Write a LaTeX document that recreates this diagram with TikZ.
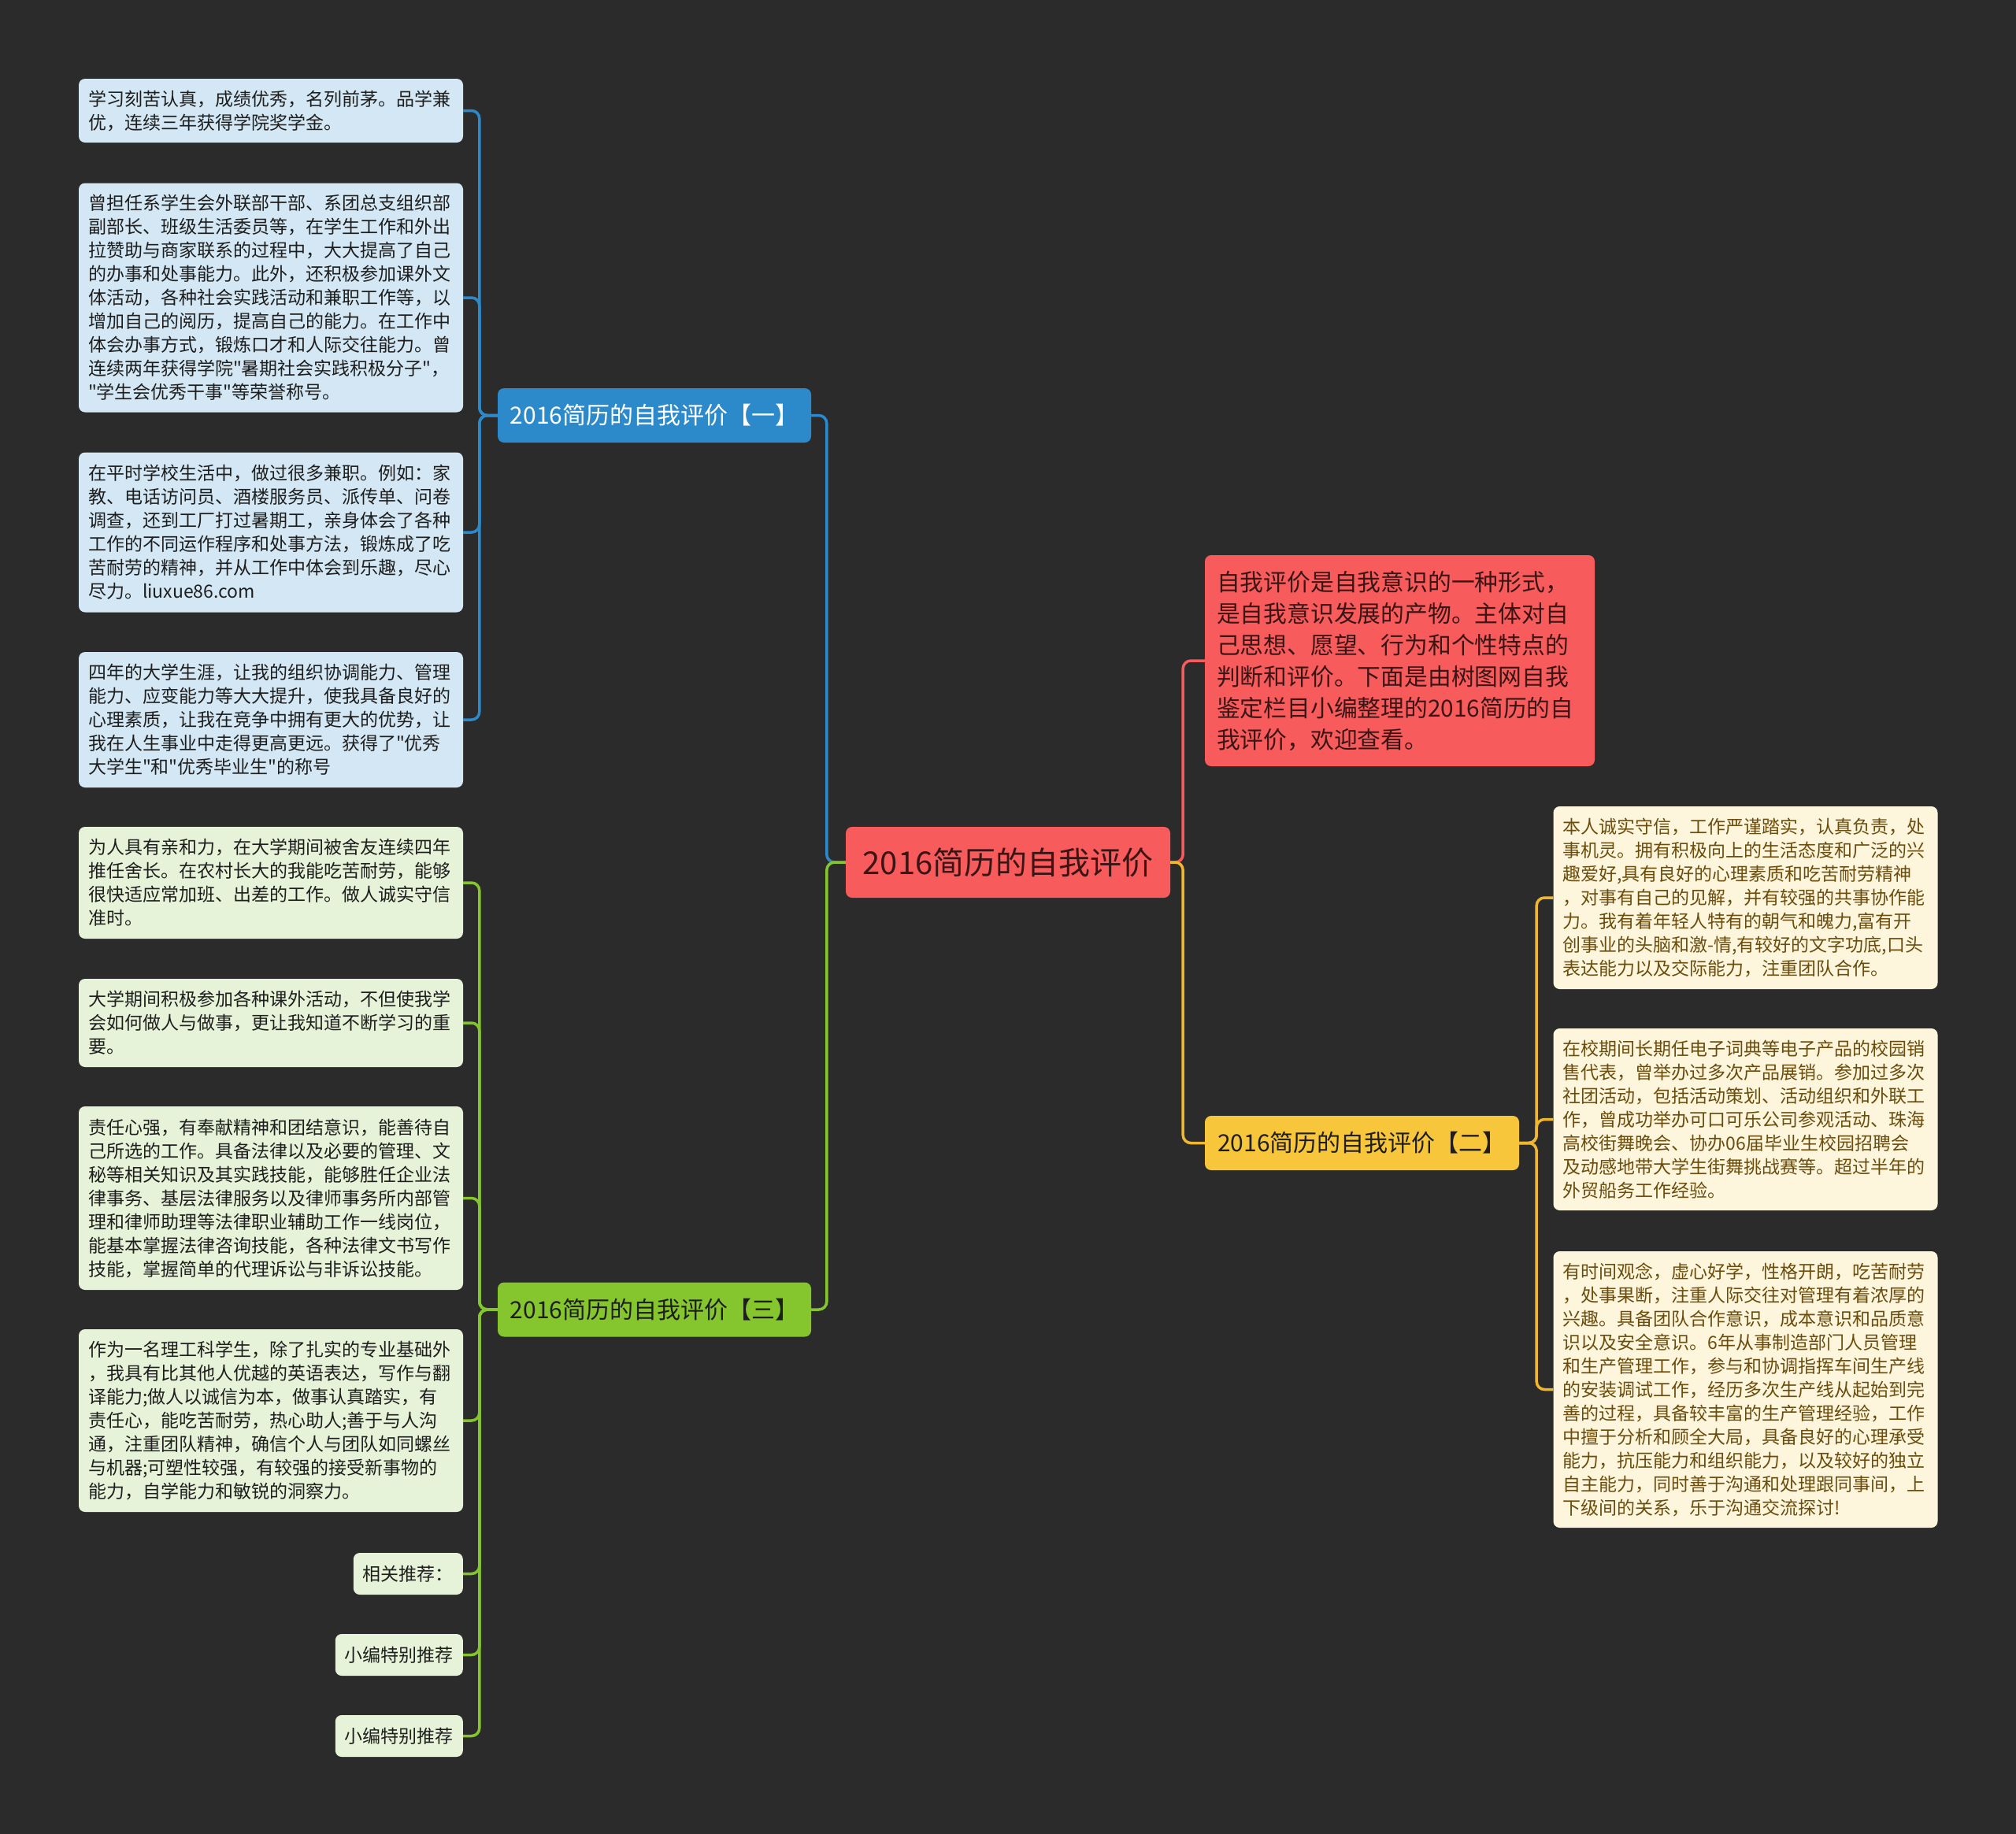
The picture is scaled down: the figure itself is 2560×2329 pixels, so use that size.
\documentclass[tikz,border=0pt]{standalone}
\usepackage{fontspec}
\setmainfont{Noto Sans CJK SC}[Ligatures=TeXOff]
\definecolor{bgc}{HTML}{2B2B2B}
\definecolor{blueM}{HTML}{2C8ACB}
\definecolor{blueL}{HTML}{D3E7F4}
\definecolor{greenM}{HTML}{85C62F}
\definecolor{greenL}{HTML}{E7F3D8}
\definecolor{yelM}{HTML}{F8C63B}
\definecolor{yelLine}{HTML}{F0B72E}
\definecolor{yelL}{HTML}{FDF6DC}
\definecolor{yelT}{HTML}{6B4C0C}
\definecolor{redM}{HTML}{F75B5B}
\definecolor{darkT}{HTML}{1E1E1E}
\definecolor{redT}{HTML}{3A1515}
\tikzset{
  leafbox/.style={rounded corners=8pt, align=left, text width=464pt, inner xsep=12pt, inner ysep=0pt,
    font=\fontsize{23}{30}\selectfont, text=darkT},
  smallbox/.style={rounded corners=8pt, inner xsep=12pt, inner ysep=0pt, minimum height=53pt,
    font=\fontsize{23}{30}\selectfont, text=darkT, fill=greenL, anchor=east},
  bleaf/.style={leafbox, fill=blueL},
  gleaf/.style={leafbox, fill=greenL},
  yleaf/.style={leafbox, fill=yelL, text=yelT},
  branchbox/.style={rounded corners=8pt, minimum width=398pt, minimum height=69pt, inner sep=0pt,
    font=\fontsize{30}{36}\selectfont},
  conn/.style={line width=3.5pt, rounded corners=10pt},
}
\begin{document}
\begin{tikzpicture}[x=1pt,y=-1pt]
\fill[bgc] (0,0) rectangle (2560,2329);
\useasboundingbox (0,0) rectangle (2560,2329);

% central
\node[rounded corners=8pt, fill=redM, minimum width=412pt, minimum height=90pt, inner sep=0pt,
  font=\fontsize{40}{46}\selectfont, text=redT] (c) at (1280,1095) {2016简历的自我评价};

% branches
\node[branchbox, fill=blueM, text=white] (b1) at (831,527.5) {2016简历的自我评价【一】};
\node[branchbox, fill=greenM, text=darkT] (b3) at (831,1663) {2016简历的自我评价【三】};
\node[branchbox, fill=yelM, text=darkT, minimum width=399pt] (b2) at (1729.5,1451.5) {2016简历的自我评价【二】};

% red summary
\node[rounded corners=8pt, fill=redM, text=redT, align=left, text width=465pt, inner xsep=15pt, inner ysep=0pt,
  minimum height=268pt, font=\fontsize{29.8}{40}\selectfont] (red) at (1777.5,839)
  {自我评价是自我意识的一种形式，\\是自我意识发展的产物。主体对自\\己思想、愿望、行为和个性特点的\\判断和评价。下面是由树图网自我\\鉴定栏目小编整理的2016简历的自\\我评价，欢迎查看。};

% blue leaves
\node[bleaf, minimum height=81pt] (L1) at (344,140.5)
  {学习刻苦认真，成绩优秀，名列前茅。品学兼\\优，连续三年获得学院奖学金。};
\node[bleaf, minimum height=291pt] (L2) at (344,378)
  {曾担任系学生会外联部干部、系团总支组织部\\副部长、班级生活委员等，在学生工作和外出\\拉赞助与商家联系的过程中，大大提高了自己\\的办事和处事能力。此外，还积极参加课外文\\体活动，各种社会实践活动和兼职工作等，以\\增加自己的阅历，提高自己的能力。在工作中\\体会办事方式，锻炼口才和人际交往能力。曾\\连续两年获得学院"暑期社会实践积极分子"，\\"学生会优秀干事"等荣誉称号。};
\node[bleaf, minimum height=203pt] (L3) at (344,676)
  {在平时学校生活中，做过很多兼职。例如：家\\教、电话访问员、酒楼服务员、派传单、问卷\\调查，还到工厂打过暑期工，亲身体会了各种\\工作的不同运作程序和处事方法，锻炼成了吃\\苦耐劳的精神，并从工作中体会到乐趣，尽心\\尽力。liuxue86.com};
\node[bleaf, minimum height=172pt] (L4) at (344,914)
  {四年的大学生涯，让我的组织协调能力、管理\\能力、应变能力等大大提升，使我具备良好的\\心理素质，让我在竞争中拥有更大的优势，让\\我在人生事业中走得更高更远。获得了"优秀\\大学生"和"优秀毕业生"的称号};

% green leaves
\node[gleaf, minimum height=142pt] (G1) at (344,1121)
  {为人具有亲和力，在大学期间被舍友连续四年\\推任舍长。在农村长大的我能吃苦耐劳，能够\\很快适应常加班、出差的工作。做人诚实守信\\准时。};
\node[gleaf, minimum height=112pt] (G2) at (344,1299)
  {大学期间积极参加各种课外活动，不但使我学\\会如何做人与做事，更让我知道不断学习的重\\要。};
\node[gleaf, minimum height=233pt] (G3) at (344,1521.5)
  {责任心强，有奉献精神和团结意识，能善待自\\己所选的工作。具备法律以及必要的管理、文\\秘等相关知识及其实践技能，能够胜任企业法\\律事务、基层法律服务以及律师事务所内部管\\理和律师助理等法律职业辅助工作一线岗位，\\能基本掌握法律咨询技能，各种法律文书写作\\技能，掌握简单的代理诉讼与非诉讼技能。};
\node[gleaf, minimum height=232pt] (G4) at (344,1804)
  {作为一名理工科学生，除了扎实的专业基础外\\，我具有比其他人优越的英语表达，写作与翻\\译能力;做人以诚信为本，做事认真踏实，有\\责任心，能吃苦耐劳，热心助人;善于与人沟\\通，注重团队精神，确信个人与团队如同螺丝\\与机器;可塑性较强，有较强的接受新事物的\\能力，自学能力和敏锐的洞察力。};
\node[smallbox] (G5) at (588,1998.5) {相关推荐：};
\node[smallbox] (G6) at (588,2101.5) {小编特别推荐};
\node[smallbox] (G7) at (588,2204.5) {小编特别推荐};

% right leaves
\node[yleaf, minimum height=232pt] (R1) at (2216.5,1140)
  {本人诚实守信，工作严谨踏实，认真负责，处\\事机灵。拥有积极向上的生活态度和广泛的兴\\趣爱好,具有良好的心理素质和吃苦耐劳精神\\，对事有自己的见解，并有较强的共事协作能\\力。我有着年轻人特有的朝气和魄力,富有开\\创事业的头脑和激-情,有较好的文字功底,口头\\表达能力以及交际能力，注重团队合作。};
\node[yleaf, minimum height=231pt] (R2) at (2216.5,1421.5)
  {在校期间长期任电子词典等电子产品的校园销\\售代表，曾举办过多次产品展销。参加过多次\\社团活动，包括活动策划、活动组织和外联工\\作，曾成功举办可口可乐公司参观活动、珠海\\高校街舞晚会、协办06届毕业生校园招聘会\\及动感地带大学生街舞挑战赛等。超过半年的\\外贸船务工作经验。};
\node[yleaf, minimum height=351pt] (R3) at (2216.5,1764.5)
  {有时间观念，虚心好学，性格开朗，吃苦耐劳\\，处事果断，注重人际交往对管理有着浓厚的\\兴趣。具备团队合作意识，成本意识和品质意\\识以及安全意识。6年从事制造部门人员管理\\和生产管理工作，参与和协调指挥车间生产线\\的安装调试工作，经历多次生产线从起始到完\\善的过程，具备较丰富的生产管理经验，工作\\中擅于分析和顾全大局，具备良好的心理承受\\能力，抗压能力和组织能力，以及较好的独立\\自主能力，同时善于沟通和处理跟同事间，上\\下级间的关系，乐于沟通交流探讨!};

% connectors: center to branches
\draw[conn, blueM] (c.west) -- ++(-24,0) |- (b1.east);
\draw[conn, greenM] (c.west) -- ++(-24,0) |- (b3.east);
\draw[conn, redM] (c.east) -- ++(16,0) |- (red.west);
\draw[conn, yelLine] (c.east) -- ++(16,0) |- (b2.west);

% branch 1 leaves
\foreach \n in {L1,L2,L3,L4}
  \draw[conn, blueM] (b1.west) -- ++(-23,0) |- (\n.east);
% branch 3 leaves
\foreach \n in {G1,G2,G3,G4,G5,G6,G7}
  \draw[conn, greenM] (b3.west) -- ++(-23,0) |- (\n.east);
% branch 2 leaves
\foreach \n in {R1,R2,R3}
  \draw[conn, yelLine] (b2.east) -- ++(22,0) |- (\n.west);
\end{tikzpicture}
\end{document}
